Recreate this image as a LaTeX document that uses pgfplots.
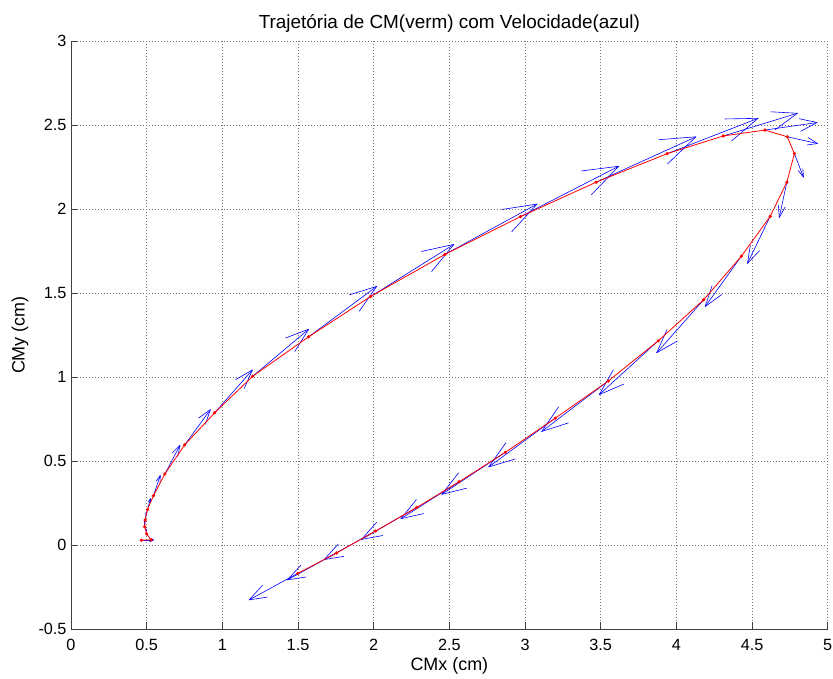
\documentclass[border=0pt]{standalone}
\usepackage{fontspec}
\setmainfont{Liberation Sans}
\usepackage{pgfplots}
\pgfplotsset{compat=1.18}
\usepackage{pgfplotstable}

\pgfplotstableread{
x      y       u       v
0.465  0.030   0.080   0.000
0.530  0.032   0.015   0.005
0.500  0.068  -0.005   0.030
0.487  0.110   0.000   0.040
0.490  0.150   0.010   0.050
0.505  0.212   0.020   0.065
0.545  0.295   0.045   0.120
0.620  0.424   0.100   0.170
0.751  0.597   0.170   0.210
0.949  0.788   0.250   0.255
1.200  1.005   0.370   0.280
1.570  1.240   0.450   0.300
1.980  1.480   0.550   0.310
2.470  1.730   0.610   0.300
2.970  1.955   0.650   0.300
3.470  2.160   0.660   0.270
3.940  2.330   0.600   0.210
4.310  2.435   0.490   0.135
4.585  2.470   0.345   0.045
4.733  2.430   0.200  -0.040
4.780  2.330   0.060  -0.140
4.730  2.160  -0.050  -0.210
4.620  1.957  -0.150  -0.280
4.430  1.720  -0.240  -0.300
4.180  1.460  -0.310  -0.315
3.880  1.216  -0.390  -0.320
3.550  0.977  -0.440  -0.300
3.200  0.756  -0.440  -0.290
2.870  0.553  -0.420  -0.250
2.565  0.378  -0.385  -0.220
2.285  0.225  -0.365  -0.190
2.013  0.085  -0.340  -0.170
1.755 -0.046  -0.325  -0.160
1.497 -0.168  -0.320  -0.157
}\cmdata

\begin{document}
\begin{tikzpicture}
\path[use as bounding box] (-71bp,-49.7bp) rectangle (762bp,629.3bp);
\begin{axis}[
  at={(0,0)}, anchor=south west,
  scale only axis, width=756.7bp, height=588.3bp,
  xmin=0, xmax=5, ymin=-0.5, ymax=3,
  xtick={0,0.5,...,5}, ytick={-0.5,0,...,3},
  axis x line*=bottom, axis y line*=left,
  axis line style={black!75, line width=0.8bp, -},
  tick align=inside,
  major tick length=7bp,
  tick style={black!75, line width=0.8bp},
  grid=major,
  major grid style={black!55, line width=0.7bp, dash pattern=on 0.7bp off 2.3bp},
  /pgf/number format/assume math mode=true,
  tick label style={font=\fontsize{16.3}{18}\selectfont},
  xticklabel style={anchor=base, yshift=-21.4bp},
  yticklabel style={anchor=east, inner sep=0pt, xshift=-4.3bp},
  title={Trajetória de CM(verm) com Velocidade(azul)},
  title style={at={(0.5,1)}, anchor=base, yshift=7bp, font=\fontsize{19}{22}\selectfont},
  xlabel={CMx (cm)},
  xlabel style={at={(0.5,0)}, anchor=base, yshift=-41.5bp, font=\fontsize{18}{21}\selectfont},
  ylabel={CMy (cm)},
  every axis y label/.style={at={(axis description cs:-0.0674,0.5)}, rotate=90, anchor=center, font=\fontsize{18}{21}\selectfont},
]
% velocity shafts
\addplot[blue, line width=0.6bp, quiver={u=\thisrow{u}, v=\thisrow{v}}] table[x=x, y=y] {\cmdata};
% arrow head barbs (MATLAB quiver style, alpha=beta=0.33)
\addplot[blue, line width=0.6bp, quiver={u={-0.33*(\thisrow{u}+0.33*\thisrow{v})}, v={-0.33*(\thisrow{v}-0.33*\thisrow{u})}}]
  table[x expr={\thisrow{x}+\thisrow{u}}, y expr={\thisrow{y}+\thisrow{v}}] {\cmdata};
\addplot[blue, line width=0.6bp, quiver={u={-0.33*(\thisrow{u}-0.33*\thisrow{v})}, v={-0.33*(\thisrow{v}+0.33*\thisrow{u})}}]
  table[x expr={\thisrow{x}+\thisrow{u}}, y expr={\thisrow{y}+\thisrow{v}}] {\cmdata};
% CM trajectory
\addplot[red, line width=0.8bp, mark=*, mark size=1.2bp, mark options={solid, fill=red, draw=red}] table[x=x, y=y] {\cmdata};
\end{axis}
\end{tikzpicture}
\end{document}
